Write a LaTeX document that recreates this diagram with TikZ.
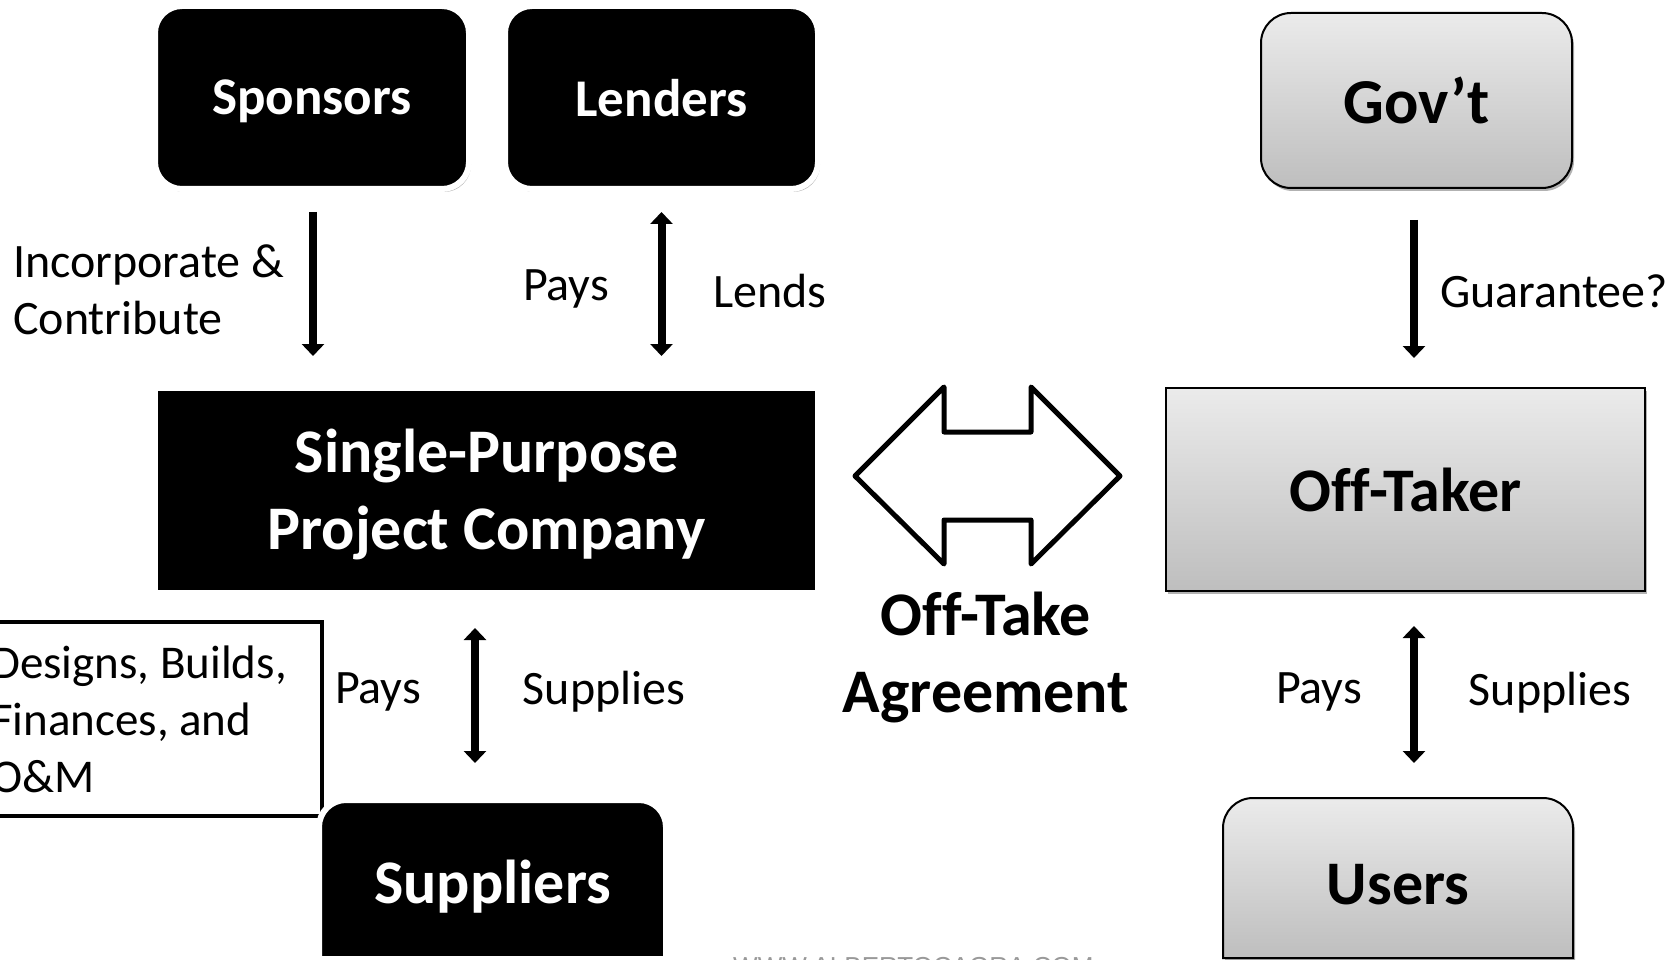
\documentclass[tikz,border=0pt]{standalone}
\usepackage{fontspec}
\setmainfont{Carlito}[Ligatures=NoCommon]
\newfontfamily\wmfont{Liberation Sans}
\usetikzlibrary{arrows.meta,shadows}
\definecolor{gtop}{RGB}{235,235,235}
\definecolor{gbot}{RGB}{190,190,190}
\frenchspacing
\begin{document}
\begin{tikzpicture}[x=1pt,y=-1pt,
  shd/.style={drop shadow={shadow xshift=2pt,shadow yshift=-3pt,opacity=0.3,fill=black}},
  blkpath/.style={fill=black,draw=white,line width=6pt,shd},
  blackbox/.style={blkpath,text=white,inner sep=0pt},
  graypath/.style={top color=gtop,bottom color=gbot,draw=black,line width=2pt,shd},
  graybox/.style={graypath,text=black,inner sep=0pt},
  bigw/.style={font=\fontsize{62}{77}\selectfont\bfseries},
  midw/.style={font=\fontsize{53}{60}\selectfont\bfseries},
  lbl/.style={font=\fontsize{48}{57}\selectfont,inner sep=0pt},
  arr/.style={line width=8pt,-{Triangle[width=22pt,length=12pt]}},
  darr/.style={line width=8pt,{Triangle[width=22pt,length=12pt]}-{Triangle[width=22pt,length=12pt]}}
]
\path[use as bounding box,clip] (0,0) rectangle (1676,960);

% top boxes
\node[blackbox,midw,text depth=0pt,rounded corners=27,minimum width=314,minimum height=183] (spon) at (312,97.5) {Sponsors};
\node[blackbox,midw,text depth=0pt,rounded corners=27,minimum width=313,minimum height=183] (lend) at (661.5,97.5) {Lenders};
\node[graybox,font=\fontsize{64}{70}\selectfont\bfseries,rounded corners=30,minimum width=311,minimum height=175] (gov) at (1416.5,100.5) {Gov’t};

% middle boxes
\node[blackbox,bigw,align=center,text depth=2pt,minimum width=663,minimum height=205] (spc) at (486.5,490.5) {Single-Purpose\\Project Company};
\node[graybox,bigw,minimum width=479,minimum height=203] (off) at (1405.5,489.5) {Off-Taker};

% big hollow double arrow
\draw[line width=5pt,fill=white,line join=round]
  (855,476) -- (944,387) -- (944,432) -- (1031,432) -- (1031,387) -- (1120,476)
  -- (1031,564) -- (1031,520) -- (944,520) -- (944,564) -- cycle;
\node[bigw,align=center,inner sep=0pt] (ota) at (986,657) {Off-Take\\Agreement};

% left text box
\node[draw=black,fill=white,line width=4pt,minimum width=360,minimum height=194,anchor=west] (dbox) at (-40,719) {};
\node[lbl,font=\fontsize{47}{57}\selectfont,align=left,anchor=west] (dtext) at (-9,719) {Designs, Builds,\\Finances, and\\O\&M};

% bottom boxes
\path[blkpath] (319,959) [rounded corners=27] -- (319,800) -- (666,800) [sharp corners] -- (666,959) -- cycle;
\node[bigw,text=white,inner sep=0pt] (sup) at (492.5,887) {Suppliers};
\path[graypath] (1223,958) [rounded corners=30] -- (1223,798) -- (1573,798) [sharp corners] -- (1573,958) -- cycle;
\node[bigw,inner sep=0pt] (usr) at (1398,885) {Users};
\coordinate (suptop) at (475,803);
\coordinate (usrtop) at (1414,798);

% connectors
\draw[arr,shorten <=20pt,shorten >=29pt] ([xshift=1pt]spon.south) -- ([xshift=1pt]spon.south |- spc.north);
\draw[darr,shorten <=20pt,shorten >=29pt] (lend.south) -- (lend.south |- spc.north);
\draw[arr,shorten <=31pt,shorten >=29pt] ([xshift=-2.5pt]gov.south) -- ([xshift=-2.5pt]gov.south |- off.north);
\draw[darr] ([xshift=-11.5pt,yshift=-32pt]spc.south) -- ([yshift=40pt]suptop);
\draw[darr] ([xshift=8.5pt,yshift=-34pt]off.south) -- ([yshift=35pt]usrtop);

% labels
\node[lbl,align=left,anchor=west] (inc) at (13,290) {Incorporate \&\\Contribute};
\node[lbl] (pays1) at (566,289) {Pays};
\node[lbl] (lends) at (770,291) {Lends};
\node[lbl,anchor=west] (guar) at (1440,291) {Guarantee?};
\node[lbl] (pays2) at (378,692) {Pays};
\node[lbl] (supp2) at (604,692) {Supplies};
\node[lbl] (pays3) at (1319,692) {Pays};
\node[lbl] (supp3) at (1550,693) {Supplies};

% watermark
\node[font=\wmfont\fontsize{26}{30}\selectfont,text=black!40,anchor=base west,inner sep=0pt] (wm) at (733,975) {WWW.ALBERTOCAGRA.COM};
\end{tikzpicture}
\end{document}
